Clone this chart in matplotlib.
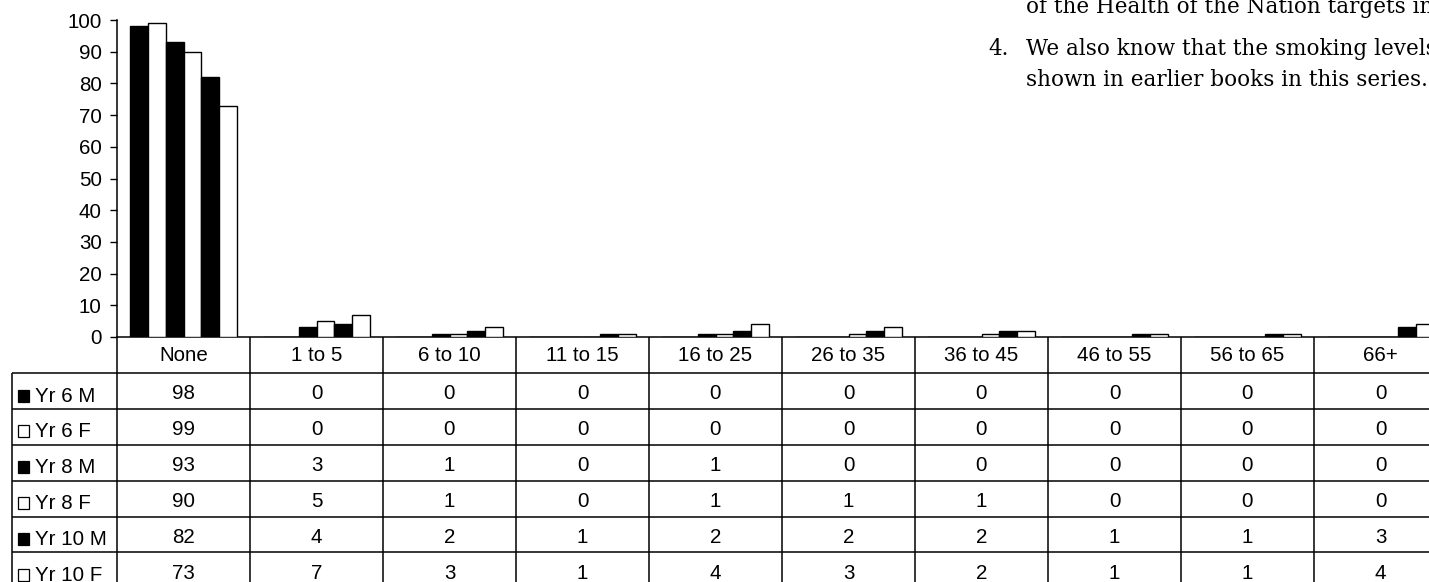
import matplotlib.pyplot as plt
from matplotlib.patches import Rectangle

# 字体设置
plt.rcParams['font.family'] = ['Liberation Sans', 'DejaVu Sans']

# 数据
categories = ["None", "1 to 5", "6 to 10", "11 to 15", "16 to 25",
              "26 to 35", "36 to 45", "46 to 55", "56 to 65", "66+"]
series_labels = ["Yr 6 M", "Yr 6 F", "Yr 8 M", "Yr 8 F", "Yr 10 M", "Yr 10 F"]
yr6_m = [98, 0, 0, 0, 0, 0, 0, 0, 0, 0]
yr6_f = [99, 0, 0, 0, 0, 0, 0, 0, 0, 0]
yr8_m = [93, 3, 1, 0, 1, 0, 0, 0, 0, 0]
yr8_f = [90, 5, 1, 0, 1, 1, 1, 0, 0, 0]
yr10_m = [82, 4, 2, 1, 2, 2, 2, 1, 1, 3]
yr10_f = [73, 7, 3, 1, 4, 3, 2, 1, 1, 4]
y_ticks = [0, 10, 20, 30, 40, 50, 60, 70, 80, 90, 100]

series = [yr6_m, yr6_f, yr8_m, yr8_f, yr10_m, yr10_f]
fills = ["black", "white", "black", "white", "black", "white"]

FS = 14.8

W, H = 1429, 582
fig = plt.figure(figsize=(W / 100, H / 100), dpi=100)
ax = fig.add_axes([117 / W, (H - 337) / H, 1330 / W, 317 / H])
ax.set_xlim(-0.5, len(categories) - 0.5)
ax.set_ylim(0, 100)

# 像素 -> 数据单位
ux = 1.0 / 133   # x 方向每像素
uy = 100 / 317   # y 方向每像素

# 柱状图
x = list(range(len(categories)))
bw = 0.134
for i, (vals, fc) in enumerate(zip(series, fills)):
    off = (i - 2.5) * bw
    ax.bar([xi + off for xi in x], vals, bw, color=fc, edgecolor="black",
           linewidth=1.0, zorder=3)

# 坐标轴样式
for s in ["top", "right"]:
    ax.spines[s].set_visible(False)
ax.spines["left"].set_linewidth(1.1)
ax.spines["bottom"].set_linewidth(1.1)
ax.set_xticks([])
ax.set_yticks(y_ticks)
ax.tick_params(axis="y", length=5, width=1.0, pad=6, labelsize=FS)

# 数据表
lw = 1.1
row_h = 35.9 * uy
n_rows = len(series)
x_left = -0.5 - 105 * ux
x_right = len(categories) - 0.5
bottom = -(n_rows + 1) * row_h

# 横线
for k in range(1, n_rows + 2):
    ax.plot([x_left, x_right], [-k * row_h, -k * row_h], color="black",
            lw=lw, clip_on=False, solid_capstyle="butt")
# 竖线
for j in range(len(categories) + 1):
    ax.plot([j - 0.5, j - 0.5], [0, bottom], color="black", lw=lw,
            clip_on=False, solid_capstyle="butt")
ax.plot([x_left, x_left], [-row_h, bottom], color="black", lw=lw,
        clip_on=False, solid_capstyle="butt")

# 表头
for j, c in enumerate(categories):
    ax.text(j, -24 * uy, c, ha="center", va="baseline", fontsize=FS,
            clip_on=False)

# 行标签和数值
for k, (lab, vals, fc) in enumerate(zip(series_labels, series, fills)):
    top = -(k + 1) * row_h
    ax.add_patch(Rectangle((x_left + 5.5 * ux, top - 28.7 * uy), 11.5 * ux,
                           12 * uy, facecolor=fc, edgecolor="black", lw=0.9,
                           clip_on=False))
    ax.text(x_left + 23 * ux, top - 28.7 * uy, lab, ha="left", va="baseline",
            fontsize=FS, clip_on=False)
    for j, v in enumerate(vals):
        ax.text(j, top - 26.3 * uy, str(v), ha="center", va="baseline",
                fontsize=FS, clip_on=False)

# 右上角的正文
serif = dict(family="DejaVu Serif", fontsize=15.5, va="baseline")
fig.text(1026 / W, 1 - 13 / H, "of the Health of the Nation targets in", **serif)
fig.text(988 / W, 1 - 55 / H, "4.", **serif)
fig.text(1026 / W, 1 - 55 / H, "We also know that the smoking levels", **serif)
fig.text(1026 / W, 1 - 86 / H, "shown in earlier books in this series.", **serif)

fig.savefig("out.png", dpi=100)
